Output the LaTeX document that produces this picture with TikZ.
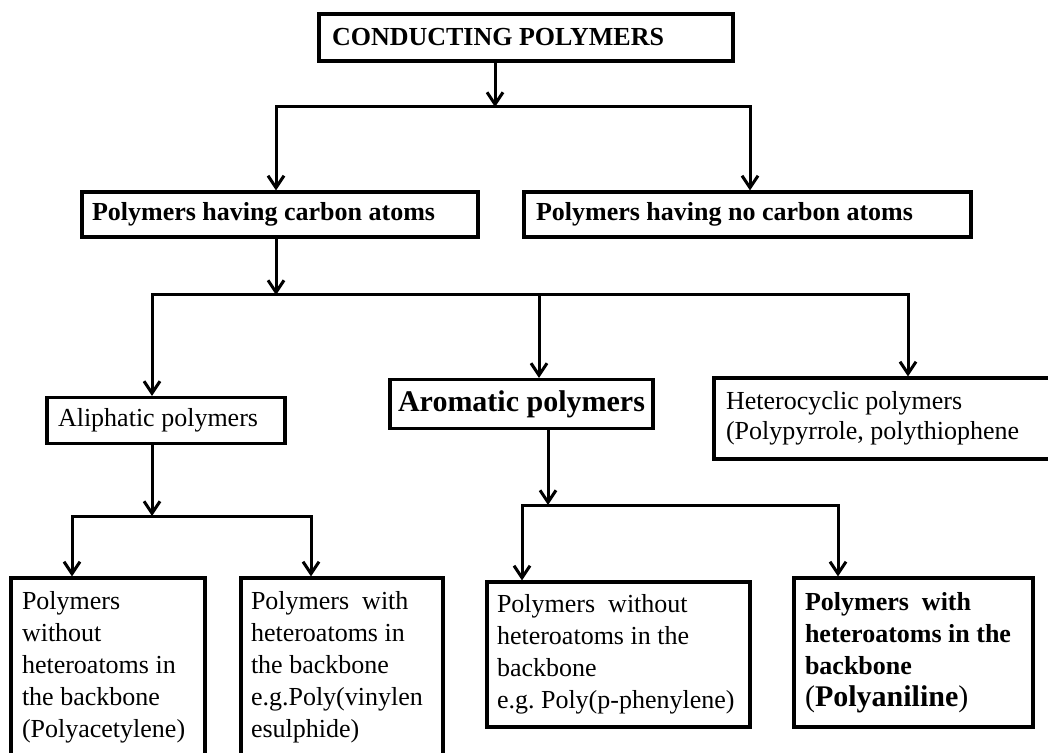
\documentclass[tikz,border=0pt]{standalone}
\usepackage{fontspec}
\setmainfont{Liberation Serif}
\usetikzlibrary{arrows.meta}
\frenchspacing

\begin{document}
\begin{tikzpicture}[x=0.5pt,y=-0.5pt,>={Straight Barb[length=6pt,width=8pt]},
  box/.style={draw,line width=1.6pt,rectangle,inner ysep=0pt,align=flush left,font=\fontsize{13}{16}\selectfont},
  link/.style={line width=1.5pt,line join=miter}]
\useasboundingbox (0,0) rectangle (1048,753);
\clip (0,0) rectangle (1048,753);

\node[box,font=\fontsize{13}{16}\selectfont\bfseries,minimum width=207pt,minimum height=23.5pt,inner xsep=6.5pt,text width=194pt] (cp) at (526,37.5) {CONDUCTING POLYMERS};
\node[box,font=\fontsize{13}{16}\selectfont\bfseries,minimum width=198pt,minimum height=22.5pt,inner xsep=5pt,text width=188pt] (carb) at (280,214.5) {Polymers having carbon atoms};
\node[box,font=\fontsize{13}{16}\selectfont\bfseries,minimum width=223.5pt,minimum height=22.5pt,inner xsep=6pt,text width=211.5pt] (nocarb) at (747.5,214.5) {Polymers having no carbon atoms};

\node[box,minimum width=119pt,minimum height=23pt,inner xsep=5.5pt,text width=108pt] (aliph) at (166,420.5) {Aliphatic polymers};
\node[box,font=\fontsize{15}{16}\selectfont\bfseries,align=center,minimum width=131.5pt,minimum height=24.5pt,inner xsep=2pt] (arom) at (521.5,404) {Aromatic polymers};
\node[box,font=\fontsize{13}{15}\selectfont,minimum width=169pt,minimum height=40.5pt,inner xsep=6pt,text width=157pt] (hetero) at (883,418.5) {Heterocyclic polymers\\(Polypyrrole, polythiophene};

\node[box,minimum width=97pt,minimum height=89.5pt,inner xsep=5.5pt,text width=86pt] (nohet1) at (108,667.5) {Polymers\\without\\heteroatoms in\\the backbone\\(Polyacetylene)};
\node[box,minimum width=101pt,minimum height=89.5pt,inner xsep=5pt,text width=91pt] (het1) at (342,667.5) {Polymers\ \ with\\heteroatoms in\\the backbone\\e.g.Poly(vinylen\\esulphide)};
\node[box,minimum width=131.5pt,minimum height=72.5pt,inner xsep=5pt,text width=121.5pt] (nohet2) at (618.5,654.5) {Polymers\ \ without\\heteroatoms in the\\backbone\\e.g. Poly(p-phenylene)};
\node[box,font=\fontsize{13}{16}\selectfont\bfseries,minimum width=119.5pt,minimum height=74.5pt,inner xsep=5.5pt,text width=108.5pt] (het2) at (913.5,652.5) {Polymers\ \ with\\heteroatoms in the\\backbone\\{\fontsize{15}{16}\selectfont{\mdseries(}Polyaniline{\mdseries)}}};

\coordinate (j1) at (495,107);
\coordinate (j1l) at (276,107);
\coordinate (j1r) at (750,107);
\coordinate (j2) at (276,295);
\coordinate (j2l) at (152,295);
\coordinate (j2m) at (539,295);
\coordinate (j2r) at (908,295);
\coordinate (j3) at (152,516);
\coordinate (j3l) at (72,516);
\coordinate (j3r) at (311,516);
\coordinate (j4) at (548,505);
\coordinate (j4l) at (522,505);
\coordinate (j4r) at (838,505);

\draw[link,->] (cp.south -| j1) -- (j1);
\draw[link,->] (j1) -- (j1l) -- (j1l |- carb.north);
\draw[link,->] (j1) -- (j1r) -- (j1r |- nocarb.north);

\draw[link,->] (carb.south -| j2) -- (j2);
\draw[link,->] (j2) -- (j2l) -- (j2l |- aliph.north);
\draw[link,->] (j2) -- (j2r) -- (j2r |- hetero.north);
\draw[link,->] (j2m) -- (j2m |- arom.north);

\draw[link,->] (aliph.south -| j3) -- (j3);
\draw[link,->] (j3) -- (j3l) -- (j3l |- nohet1.north);
\draw[link,->] (j3) -- (j3r) -- (j3r |- het1.north);

\draw[link,->] (arom.south -| j4) -- (j4);
\draw[link,->] (j4) -- (j4l) -- (j4l |- nohet2.north);
\draw[link,->] (j4) -- (j4r) -- (j4r |- het2.north);
\end{tikzpicture}
\end{document}
